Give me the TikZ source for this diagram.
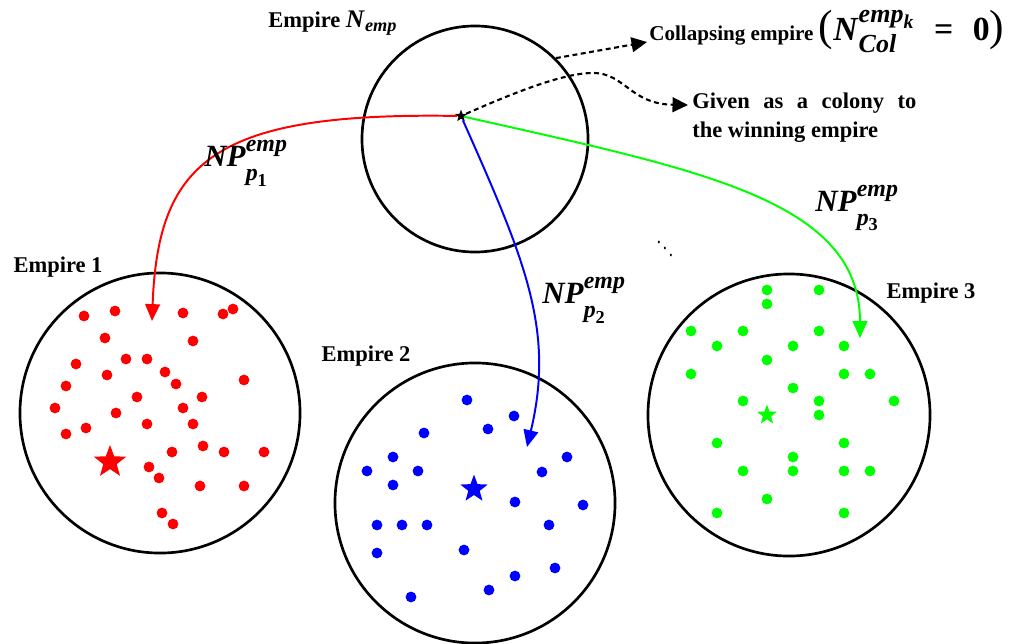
\documentclass[tikz,border=0pt]{standalone}
\usepackage{fontspec}
\setmainfont{Liberation Serif}
\usepackage{amsmath}
\usepackage{graphicx}
\usetikzlibrary{arrows.meta, shapes.geometric}
\newcommand{\bfit}[1]{\textbf{\textit{#1}}}
\newcommand{\npsub}[1]{\bfit{p}_{\textbf{#1}}\rule{0pt}{0.62em}}
\newcommand{\bigpar}[1]{{\fontsize{31}{31}\selectfont\mdseries #1}}
\DeclareMathSizes{18}{18}{13}{10}
\DeclareMathSizes{22}{22}{17}{13}
\DeclareMathSizes{24}{24}{18.5}{14}

\begin{document}
\begin{tikzpicture}[
    x=0.025cm, y=-0.025cm,
    empire/.style={circle, draw=black, line width=1.9pt, inner sep=0pt},
    dot/.style={circle, inner sep=0pt, minimum size=0.27cm},
    rdot/.style={dot, fill=red},
    bdot/.style={dot, fill=blue},
    gdot/.style={dot, fill=green},
    capital/.style={star, star points=5, star point ratio=2.4, inner sep=0pt},
    lbl/.style={font=\bfseries\fontsize{16}{20.5}\selectfont},
    np/.style={font=\fontsize{22}{26}\selectfont},
    move/.style={line width=1.4pt, -{Triangle[length=12pt, width=10.5pt]}},
    fate/.style={line width=1.5pt, dash pattern=on 3.5pt off 2.5pt, -{Triangle[length=11pt, width=10.5pt]}}
]
    \useasboundingbox (0,0) rectangle (1019,644);

    % 帝国圆 (4个)
    \node[empire, minimum size=5.65cm] (Enemp) at (475,139) {}; % 崩溃帝国
    \node[empire, minimum size=7cm] (E1) at (160,413) {};      % 帝国1
    \node[empire, minimum size=7cm] (E2) at (475,503) {};      % 帝国2
    \node[empire, minimum size=7.05cm] (E3) at (789,415) {};   % 帝国3

    % 帝国名称
    \node[lbl, anchor=base west, inner sep=0pt] (tNemp) at (268,28)
        {Empire {\fontsize{18}{20}\selectfont$\bfit{N}_{\bfit{emp}}$}};
    \node[lbl] (t1) at (58,267) {Empire 1};
    \node[lbl] (t2) at (366,356) {Empire 2};
    \node[lbl] (t3) at (931,293) {Empire 3};

    % 殖民地 (点)
    \foreach \x/\y [count=\i] in {84/316, 115/311, 183/313, 223/314, 233/309,
        105/338, 193/341, 76/364, 126/359, 147/359, 107/375, 165/372, 176/384,
        244/380, 66/386, 137/397, 202/397, 55/408, 116/413, 183/408, 147/424,
        193/424, 66/434, 86/428, 203/446, 172/452, 224/452, 264/452, 149/467,
        159/478, 200/486, 244/486, 162/513, 173/524}
        \node[rdot] (r\i) at (\x,\y) {};
    \foreach \x/\y [count=\i] in {467/400, 514/416, 424/433, 488/429, 393/457,
        567/457, 367/471, 418/471, 542/472, 393/485, 515/502, 583/505, 377/525,
        402/525, 427/525, 549/525, 377/553, 464/550, 555/568, 515/576, 489/590,
        411/597}
        \node[bdot] (b\i) at (\x,\y) {};
    \foreach \x/\y [count=\i] in {767/290, 819/290, 767/304, 691/331, 743/331,
        819/331, 717/346, 793/346, 844/346, 767/360, 691/374, 844/374, 870/374,
        793/388, 743/401, 819/401, 894/401, 819/415, 717/443, 844/443, 793/457,
        743/471, 793/471, 844/471, 870/471, 767/499, 717/513, 844/513}
        \node[gdot] (g\i) at (\x,\y) {};

    % 帝国主义者 (星)
    \node[capital, fill=black, minimum size=0.32cm] (s0) at (461,116) {};
    \node[capital, fill=red, minimum size=0.85cm] (s1) at (110,462) {};
    \node[capital, fill=blue, minimum size=0.72cm] (s2) at (474,489) {};
    \node[capital, fill=green, minimum size=0.52cm] (s3) at (767,415) {};

    % 箭头终点
    \coordinate (h1) at (152,321);
    \coordinate (h2) at (527,447);
    \coordinate (h3) at (860,338);
    \coordinate (h4) at (647,42);
    \coordinate (h5) at (688,105);

    % 1. 殖民地分配给各帝国
    \draw[move, red] (s0) .. controls (215,112) and (158,160) .. (h1);
    \draw[move, blue] (s0) .. controls (525,260) and (555,330) .. (h2);
    \draw[move, green] (s0) .. controls (700,170) and (860,200) .. (h3);
    \node[np] (np1) at (246,163) {$\bfit{NP}^{\bfit{emp}}_{\npsub{1}}$};
    \node[np] (np2) at (584,300) {$\bfit{NP}^{\bfit{emp}}_{\npsub{2}}$};
    \node[np] (np3) at (857,208) {$\bfit{NP}^{\bfit{emp}}_{\npsub{3}}$};

    % 2. 崩溃帝国的去向
    \node[lbl, font=\bfseries\fontsize{15}{18}\selectfont, anchor=base west, inner sep=0pt] (tCol) at (649,41)
        {Collapsing empire \bigpar{(}{\fontsize{24}{28}\selectfont$\bfit{N}^{\bfit{emp}_{\bfit{k}}}_{\bfit{Col}}\;\;\textbf{=}\;\;\textbf{0}$}\bigpar{)}};
    \node[lbl, anchor=north west, align=left, inner sep=0pt] (tGiv) at (692,93)
        {\makebox[5.6cm][s]{Given as a colony to}\\the winning empire};
    \draw[fate] (Enemp.45) -- (h4);
    \draw[fate] (s0) .. controls (520,90) and (565,73) .. (593,73)
        .. controls (625,73) and (630,104) .. (h5);

    % 省略号
    \node (dd) at (665,242) {\scalebox{1.2}[1.6]{$\ddots$}};
\end{tikzpicture}
\end{document}
